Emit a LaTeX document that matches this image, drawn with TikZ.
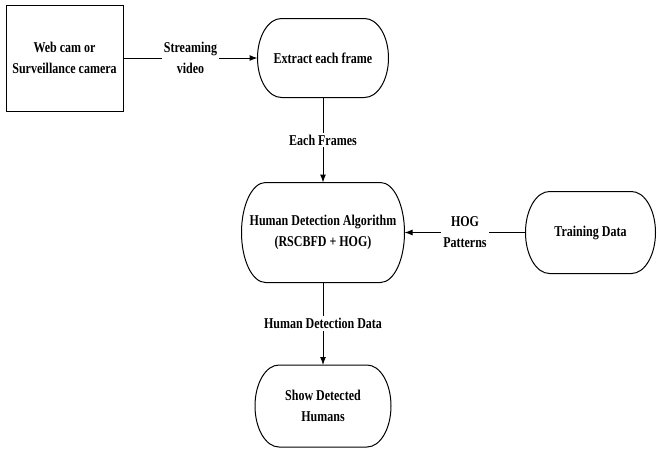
\documentclass[tikz,border=0pt]{standalone}
\usepackage{fontspec}
\setmainfont{Liberation Serif}[FakeStretch=0.8]
\usetikzlibrary{arrows.meta, positioning, calc}
\tikzstyle{block} = [draw, fill=white, rectangle, align=center]
\tikzstyle{term} = [rectangle, inner sep=0pt, align=center]
\tikzstyle{tag} = [fill=white, inner sep=2pt, align=center]

\begin{document}
\begin{tikzpicture}[x=1pt, y=1pt, line width=1pt, >={Latex[length=8pt, width=6pt]}, font=\fontsize{15}{21}\selectfont\bfseries]
	\useasboundingbox (0,0) rectangle (657,-450);
	\node [block, minimum width=117pt, minimum height=106pt] (camera) at (64.5,-58) {Web cam or\\Surveillance camera};
	\node [term, right of=camera, node distance=258.5pt, minimum width=130pt, minimum height=78pt] (extract) {Extract each frame};
	\node [term, below of=extract, node distance=174.5pt, minimum width=162pt, minimum height=99pt] (detect) {Human Detection Algorithm\\(RSCBFD + HOG)};
	\node [term, right of=detect, node distance=267.5pt, minimum width=129pt, minimum height=81pt] (training) {Training Data};
	\node [term, below of=detect, node distance=173.5pt, minimum width=135pt, minimum height=81pt] (show) {Show Detected\\Humans};

	\foreach \t in {extract, detect, training, show}
		\draw let \p1=(\t.north west), \p2=(\t.south east) in
			(\x1+24pt,\y1) -- (\x2-24pt,\y1) arc[start angle=90, end angle=-90, x radius=24pt, y radius={(\y1-\y2)/2}]
			-- (\x1+24pt,\y2) arc[start angle=270, end angle=90, x radius=24pt, y radius={(\y1-\y2)/2}] -- cycle;

	\draw[->] (camera) -- node[tag]{Streaming\\video} (extract);
	\draw[->] (extract) -- node[tag]{Each Frames} (detect);
	\draw[->] (training) -- node[tag]{HOG\\Patterns} (detect);
	\draw[->] (detect) -- node[tag]{Human Detection Data} (show);
\end{tikzpicture}
\end{document}
